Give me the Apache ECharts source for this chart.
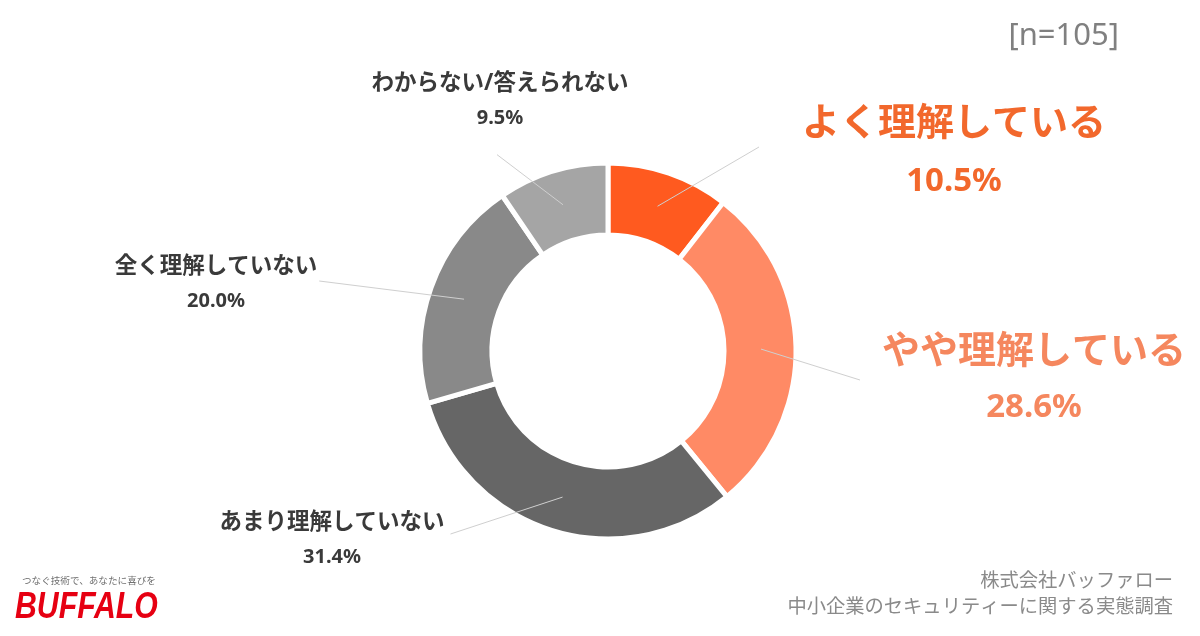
<!DOCTYPE html>
<html><head><meta charset="utf-8">
<script src="https://cdn.jsdelivr.net/npm/echarts/dist/echarts.min.js"></script>
<style>html,body{margin:0;padding:0;background:#fff}#c{width:1200px;height:636px}</style>
</head><body><div id="c"></div>
<script>
// ---- data ----
const categories = ['よく理解している', 'やや理解している', 'あまり理解していない', '全く理解していない', 'わからない/答えられない'];
const shares = [10.5, 28.6, 31.4, 20.0, 9.5];
const sampleNote = '[n=105]';
const sourceLines = ['株式会社バッファロー', '中小企業のセキュリティーに関する実態調査'];
const tagline = 'つなぐ技術で、あなたに喜びを';
const brand = 'BUFFALO';

// ---- styles ----
const sliceColors = ['#FF5A1F', '#FF8A65', '#666666', '#898989', '#A5A5A5'];
const FONT = '"Noto Sans", "Noto Sans CJK JP", sans-serif';
const labelStyles = [
  { nSize: 38, vSize: 33, color: '#F2682C', lh: 58 },
  { nSize: 38, vSize: 33, color: '#F5875E', lh: 55 },
  { nSize: 22.5, vSize: 20, color: '#3A3A3A', lh: 34 },
  { nSize: 22.5, vSize: 20, color: '#3A3A3A', lh: 34 },
  { nSize: 22.5, vSize: 20, color: '#3A3A3A', lh: 34 }
];
const labelPos = [
  { x: 954, y: 153, side: 'left', gap: 43, dy: -6 },
  { x: 1034, y: 380, side: 'left', gap: 22, dy: 0 },
  { x: 332, y: 540, side: 'right', gap: 6, dy: -6 },
  { x: 216, y: 284, side: 'right', gap: 2, dy: -3 },
  { x: 500, y: 101, side: 'bottom', gap: 26, dx: -3 }
];

const chart = echarts.init(document.getElementById('c'), null, { renderer: 'canvas' });

const mainData = categories.map((name, i) => ({ name, value: shares[i], itemStyle: { color: sliceColors[i] } }));
const labelData = categories.map((name, i) => {
  const s = labelStyles[i];
  return {
    name, value: shares[i],
    label: {
      rich: {
        n: { fontSize: s.nSize, fontWeight: 'bold', color: s.color, fontFamily: FONT, lineHeight: s.lh },
        v: { fontSize: s.vSize, fontWeight: 'bold', color: s.color, fontFamily: FONT, lineHeight: s.lh }
      }
    }
  };
});

chart.setOption({
  animation: false,
  backgroundColor: '#ffffff',
  series: [
    {
      type: 'pie',
      center: [608, 351],
      radius: [116, 188],
      startAngle: 90,
      clockwise: true,
      silent: true,
      label: { show: false },
      labelLine: { show: false },
      itemStyle: { borderColor: '#ffffff', borderWidth: 5 },
      emphasis: { disabled: true },
      data: mainData
    },
    {
      type: 'pie',
      center: [608, 351],
      radius: [0, 153],
      startAngle: 90,
      clockwise: true,
      silent: true,
      z: 5,
      avoidLabelOverlap: false,
      itemStyle: { color: 'rgba(0,0,0,0)', borderWidth: 0 },
      emphasis: { disabled: true },
      label: {
        show: true,
        position: 'outside',
        formatter: p => '{n|' + p.name + '}\n{v|' + p.value.toFixed(1) + '%}'
      },
      labelLine: { show: true, length: 10, length2: 10, lineStyle: { color: '#CFCFCF', width: 1 } },
      labelLayout: function (params) {
        const p = labelPos[params.dataIndex];
        const w = params.labelRect.width, h = params.labelRect.height;
        const left = p.x - w / 2, top = p.y - h / 2;
        let end;
        if (p.side === 'left') end = [left - p.gap, p.y + (p.dy || 0)];
        else if (p.side === 'right') end = [left + w + p.gap, p.y + (p.dy || 0)];
        else end = [p.x + (p.dx || 0), top + h + p.gap];
        const start = params.labelLinePoints ? params.labelLinePoints[0] : end;
        return { x: p.x, y: p.y, align: 'center', verticalAlign: 'middle', labelLinePoints: [start, end, end] };
      },
      data: labelData
    }
  ],
  graphic: [
    { type: 'text', x: 1119, y: 36, style: { text: sampleNote, align: 'right', verticalAlign: 'middle', font: '31px "Noto Sans", sans-serif', fill: '#808080' } },
    { type: 'text', x: 1173, y: 567, style: { text: sourceLines.join('\n'), align: 'right', verticalAlign: 'top', lineHeight: 26, font: '19.3px "Noto Sans CJK JP", sans-serif', fill: '#8A8A8A' } },
    { type: 'text', x: 22, y: 580, style: { text: tagline, verticalAlign: 'middle', font: '9.6px "Noto Sans CJK JP", sans-serif', fill: '#707070' } },
    { type: 'text', x: 15, y: 608, scaleX: 0.84, style: { text: brand, verticalAlign: 'middle', font: 'italic bold 36px "Liberation Sans", sans-serif', fill: '#E60012' } }
  ]
});
</script>
</body></html>
